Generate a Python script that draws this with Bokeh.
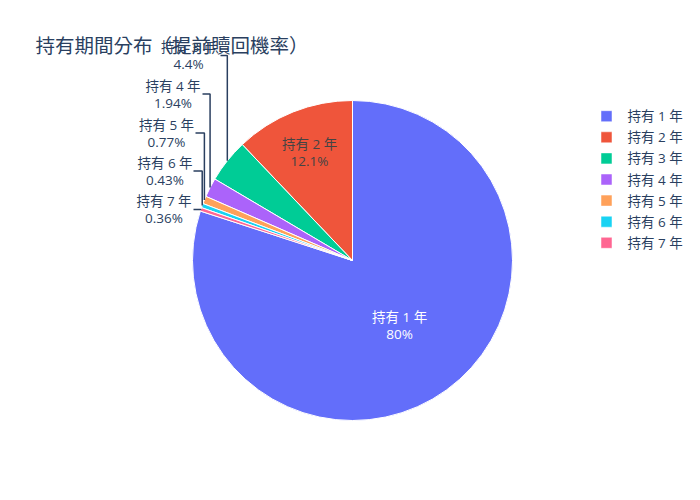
import numpy as np
from bokeh.plotting import figure
from bokeh.models import Range1d, ColumnDataSource
from bokeh.core.properties import value
from bokeh.embed import file_html
from bokeh.resources import INLINE

# ---- data ----
title = "持有期間分布（提前贖回機率）"
categories = ["持有 1 年", "持有 2 年", "持有 3 年", "持有 4 年", "持有 5 年", "持有 6 年", "持有 7 年"]
percent_labels = ["80%", "12.1%", "4.4%", "1.94%", "0.77%", "0.43%", "0.36%"]
values = [80.0, 12.1, 4.4, 1.94, 0.77, 0.43, 0.36]
colors = ["#636efa", "#EF553B", "#00cc96", "#ab63fa", "#FFA15A", "#19d3f3", "#FF6692"]

# ---- layout (screen px; data y = 500 - screen y) ----
FONT = value("Open Sans, Noto Sans CJK TC")
TXT = "#2a3f5f"
FS = "13.5px"
W, H = 684, 484
cx, cy_s, R = 352, 260, 160

def sy(y):
    return 500 - y

p = figure(width=W, height=H, x_range=Range1d(0, W), y_range=Range1d(500 - H, 500),
           output_backend="svg", toolbar_location=None, min_border=0,
           x_axis_type=None, y_axis_type=None)
p.grid.visible = False
p.outline_line_color = None
p.background_fill_color = "white"
p.border_fill_color = "white"

vals = np.array(values)
frac = vals / vals.sum()
cum = np.concatenate([[0], np.cumsum(frac)])
start0 = np.pi / 2 - frac[0] * 2 * np.pi
starts = start0 + cum[:-1] * 2 * np.pi
ends = start0 + cum[1:] * 2 * np.pi
mids = (starts + ends) / 2

src = ColumnDataSource(dict(start=starts, end=ends, color=colors))
p.wedge(x=cx, y=sy(cy_s), radius=R, start_angle="start", end_angle="end",
        direction="anticlock", fill_color="color", line_color="white", line_width=1,
        source=src)

# inside labels (slices 1 and 2)
inside_r = [0.5, 0.724]
inside_colors = ["white", "#444444"]
for i in range(2):
    lx = cx + inside_r[i] * R * np.cos(mids[i])
    ly = sy(cy_s) + inside_r[i] * R * np.sin(mids[i])
    p.text(x=[lx, lx], y=[ly + 8.5, ly - 8.5], text=[categories[i], percent_labels[i]],
           text_font=FONT, text_font_size=FS, text_color=inside_colors[i],
           text_align="center", text_baseline="middle")

# outside labels (slices 3..7)
out_center_x = [188, 172.5, 166, 164.5, 163.5]
out_center_y = [55, 93.5, 132.5, 170.5, 209]
line_end_x = [220, 202, 195, 193, 193]
for k, i in enumerate(range(2, 7)):
    bx, by = out_center_x[k], out_center_y[k]
    p.text(x=[bx, bx], y=[sy(by - 8.5), sy(by + 8.5)], text=[categories[i], percent_labels[i]],
           text_font=FONT, text_font_size=FS, text_color=TXT,
           text_align="center", text_baseline="middle")
    ex = cx + R * np.cos(mids[i])
    ey = sy(cy_s) + R * np.sin(mids[i])
    p.line(x=[ex, ex, line_end_x[k]], y=[ey, sy(by), sy(by)], line_color=TXT, line_width=1.5)

# title
p.text(x=[35], y=[sy(45)], text=[title], text_font=FONT, text_font_size="19.5px",
       text_color=TXT, text_align="left", text_baseline="middle")

# legend
leg_y0, leg_dy = 115.7, 21.1
leg_ys = [sy(leg_y0 + i * leg_dy) for i in range(len(categories))]
p.scatter(x=[606] * len(categories), y=leg_ys, marker="square", size=11,
          fill_color=colors, line_color="white", line_width=0.5)
p.text(x=[627] * len(categories), y=leg_ys, text=categories, text_font=FONT,
       text_font_size=FS, text_color=TXT, text_align="left", text_baseline="middle")

open("out.html", "w").write(file_html(p, INLINE))
